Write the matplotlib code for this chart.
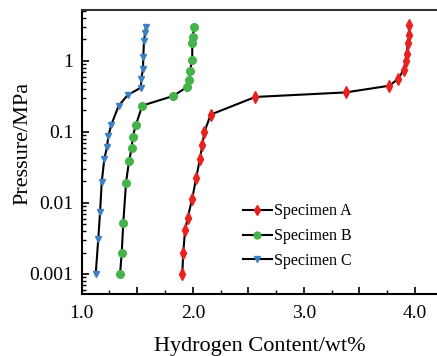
import matplotlib.pyplot as plt
import matplotlib.ticker as mticker
import numpy as np

plt.rcParams['font.family'] = ['Liberation Serif', 'DejaVu Serif']

# Specimen A (red)
a_h = [3.949, 3.943, 3.934, 3.925, 3.916, 3.898, 3.850, 3.769, 3.376, 2.563,
       2.161, 2.104, 2.086, 2.065, 2.029, 1.995, 1.954, 1.930, 1.914, 1.905]
a_p = [3.2, 2.32, 1.77, 1.25, 0.98, 0.75, 0.56, 0.446, 0.359, 0.31,
       0.175, 0.099, 0.066, 0.042, 0.0221, 0.0115, 0.0062, 0.0041, 0.0020, 0.001]

# Specimen B (green)
b_h = [2.013, 1.999, 1.995, 1.995, 1.975, 1.968, 1.950, 1.824, 1.545,
       1.486, 1.459, 1.450, 1.426, 1.399, 1.374, 1.360, 1.345]
b_p = [2.97, 2.19, 1.77, 1.03, 0.73, 0.54, 0.43, 0.32, 0.234,
       0.123, 0.085, 0.059, 0.039, 0.0193, 0.0052, 0.00196, 0.001]

# Specimen C (blue)
c_h = [1.579, 1.570, 1.561, 1.554, 1.552, 1.536, 1.534, 1.414, 1.333,
       1.264, 1.239, 1.228, 1.203, 1.180, 1.165, 1.149, 1.126]
c_p = [3.03, 2.47, 1.93, 1.14, 0.77, 0.56, 0.42, 0.33, 0.234,
       0.123, 0.086, 0.062, 0.041, 0.0195, 0.0074, 0.0031, 0.001]

fig = plt.figure(figsize=(4.37, 3.56), dpi=100)
ax = fig.add_axes([0.187, 0.174, 0.813, 0.798])

ax.plot(a_h, a_p, color='black', lw=1.5, marker='d', ms=5.8,
        mfc='#e8201e', mec='#e8201e', label='Specimen A')
ax.plot(b_h, b_p, color='black', lw=1.5, marker='o', ms=5.5,
        mfc='#45b34a', mec='#45b34a', label='Specimen B')
ax.plot(c_h, c_p, color='black', lw=1.5, marker='v', ms=5,
        mfc='#3a80c2', mec='#3a80c2', label='Specimen C')

ax.set_yscale('log')
ax.set_xlim(1.0, 4.198)
ax.set_ylim(0.00052, 5.2)

ax.xaxis.set_major_locator(mticker.MultipleLocator(0.5))
ax.xaxis.set_minor_locator(mticker.MultipleLocator(0.25))
ax.xaxis.set_major_formatter(mticker.FuncFormatter(
    lambda v, p: f'{v:.1f}' if abs(v - round(v)) < 1e-6 else ''))
ax.yaxis.set_major_locator(mticker.FixedLocator([0.001, 0.01, 0.1, 1]))
ax.yaxis.set_major_formatter(mticker.FixedFormatter(['0.001', '0.01', '0.1', '1']))
ax.yaxis.set_minor_locator(mticker.LogLocator(subs=np.arange(2, 10)))
ax.yaxis.set_minor_formatter(mticker.NullFormatter())

ax.tick_params(which='both', direction='in', top=False, right=False, labelsize=14)
ax.tick_params(which='major', length=5, width=1.2)
ax.tick_params(which='minor', length=3, width=1.0)
ax.tick_params(axis='x', pad=8)
ax.tick_params(axis='y', pad=6)

ax.spines['right'].set_visible(False)
for s in ('left', 'bottom', 'top'):
    ax.spines[s].set_linewidth(1.5)
ax.spines['top'].set_color('#333333')

ax.set_xlabel('Hydrogen Content/wt%', fontsize=16, labelpad=11)
ax.set_ylabel('Pressure/MPa', fontsize=16)
ax.yaxis.set_label_coords(-0.138, 0.53)

ax.legend(loc='upper left', bbox_to_anchor=(0.454, 0.32), frameon=False,
          fontsize=11.5, handlelength=1.8, handletextpad=0.12, labelspacing=0.56,
          borderpad=0, borderaxespad=0, markerscale=0.9)

fig.savefig('out.png', dpi=100)
